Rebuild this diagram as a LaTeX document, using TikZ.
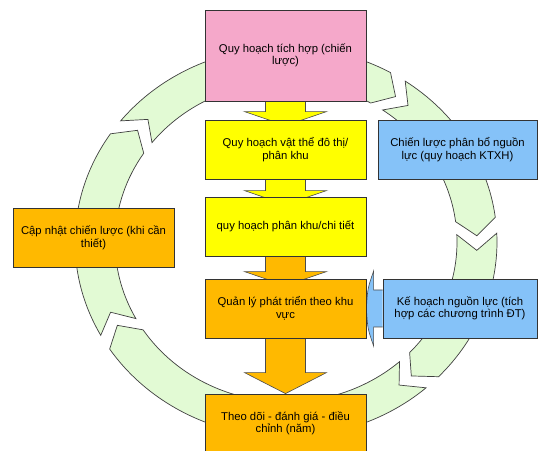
\documentclass[tikz,border=0pt]{standalone}
\usepackage{fontspec}
\setmainfont{Liberation Sans}
\usetikzlibrary{calc}
\pgfdeclarelayer{back}
\pgfsetlayers{back,main}
\definecolor{pinkbox}{RGB}{245,168,202}
\definecolor{yellowbox}{RGB}{255,255,0}
\definecolor{orangebox}{RGB}{255,185,0}
\definecolor{bluebox}{RGB}{133,194,248}
\definecolor{ringgreen}{RGB}{226,250,212}
\tikzset{
  box/.style={draw=black!80,line width=0.8pt,minimum width=161pt,minimum height=59pt,
    align=center,inner sep=2pt,font=\fontsize{11.3}{12.5}\selectfont},
  blockline/.style={draw=black!70,line width=0.6pt},
  ringline/.style={draw=black!75,line width=0.7pt,fill=ringgreen}
}
% one piece of the ring, clockwise from #1 to #2 (degrees)
\newcommand\ringpart[2]{%
  \draw[ringline] ($(hub)+(#1:211 and 195)$) arc[start angle=#1,end angle=#2,x radius=211,y radius=195]
    -- ($(hub)+(#2-5.3:191 and 177.5)$) -- ($(hub)+(#2:171 and 160)$)
    arc[start angle=#2,end angle=#1,x radius=171,y radius=160]
    -- ($(hub)+(#1-5.3:191 and 177.5)$) -- cycle;}
% block arrow down: from, to, colour, head base above target, head length
\newcommand\downblock[5]{%
  \draw[blockline,fill=#3] ($(#1.south)+(-20,0)$) -- ($(#2.north)+(-20,#4)$) -- ($(#2.north)+(-41,#4)$)
    -- ($(#2.north)+(0,#4-#5)$) -- ($(#2.north)+(41,#4)$) -- ($(#2.north)+(20,#4)$) -- ($(#1.south)+(20,0)$);}
\begin{document}
\begin{tikzpicture}[x=1pt,y=1pt]
\useasboundingbox (0,0) rectangle (538,450);
\clip (0,0) rectangle (538,450);
\coordinate (hub) at (286,208);
% boxes
\node[box,fill=pinkbox,minimum height=91pt] (plan) at (285.5,394.5) {Quy hoạch tích hợp (chiến\\lược)};
\node[box,fill=yellowbox] (physical) at (285.5,300.5) {Quy hoạch vật thể đô thị/\\phân khu};
\node[box,fill=yellowbox] (zoning) at (285.5,223.5) {quy hoạch phân khu/chi tiết};
\node[box,fill=orangebox] (mgmt) at (285.5,141.5) {Quản lý phát triển theo khu\\vực};
\node[box,fill=orangebox] (monitor) at (285.5,26.5) {Theo dõi - đánh giá - điều\\chỉnh (năm)};
\node[box,fill=bluebox,minimum width=159pt] (alloc) at (457.5,300.5) {Chiến lược phân bổ nguồn\\lực (quy hoạch KTXH)};
\node[box,fill=bluebox,minimum width=154pt] (res) at (460,141.5) {Kế hoạch nguồn lực (tích\\hợp các chương trình ĐT)};
\node[box,fill=orangebox] (update) at (93.5,212) {Cập nhật chiến lược (khi cần\\thiết)};
\begin{pgfonlayer}{back}
  \fill[white] (0,0) rectangle (538,450);
  % ring
  \ringpart{208.6}{146.3}
  \ringpart{141.6}{60.3}
  \ringpart{55.6}{7.3}
  \ringpart{2.6}{-43.7}
  \ringpart{-48.4}{-146.7}
  % arrows
  \downblock{plan}{physical}{yellowbox}{8}{14}
  \downblock{physical}{zoning}{yellowbox}{6}{14}
  \downblock{zoning}{mgmt}{orangebox}{7}{14}
  \downblock{mgmt}{monitor}{orangebox}{21}{21}
  \draw[blockline,fill=bluebox] ($(res.west)+(0,-18.5)$) -- ($(res.west)+(-9,-18.5)$) -- ($(res.west)+(-9,-37.5)$)
    .. controls ($(res.west)+(-15,-20)$) .. (mgmt.east)
    .. controls ($(res.west)+(-15,20)$) .. ($(res.west)+(-9,37.5)$) -- ($(res.west)+(-9,18.5)$) -- ($(res.west)+(0,18.5)$);
\end{pgfonlayer}
\end{tikzpicture}
\end{document}
